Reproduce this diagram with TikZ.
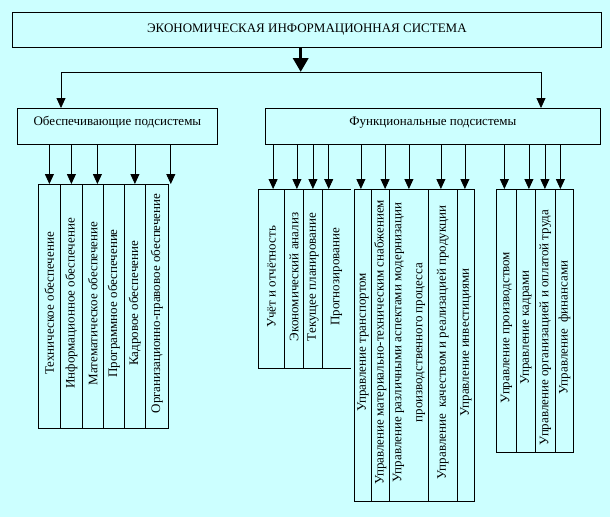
\documentclass[tikz,border=0pt]{standalone}
\usepackage{fontspec}
\setmainfont{Liberation Serif}
\usepackage{graphicx}
\usetikzlibrary{arrows.meta,calc}
\definecolor{bg}{RGB}{204,255,255}
\newcommand{\vtext}[2][0pt]{\rotatebox{90}{\hspace*{#1}#2}}
\newcommand{\vtextd}[2][0pt]{\rotatebox{90}{#2\hspace*{#1}}}
\begin{document}
\begin{tikzpicture}[x=1pt,y=-1pt,font=\fontsize{13}{15}\selectfont,line width=0.8pt]
\tikzset{
  rectbox/.style={draw,inner sep=0pt,anchor=north west},
  cell/.style 2 args={draw,inner sep=0pt,anchor=north west,minimum width=#1,minimum height=#2},
  opencell/.style 2 args={inner sep=0pt,anchor=north west,minimum width=#1,minimum height=#2},
  arr/.style={-{Triangle[width=9pt,length=10pt]}},
  bigarr/.style={line width=3.5pt,-{Triangle[width=15pt,length=14pt]}}
}
\fill[bg] (0,0) rectangle (610,517);
\useasboundingbox (0,0) rectangle (610,517);

% main boxes
\node[rectbox,minimum width=589,minimum height=35] (top) at (12,12) {ЭКОНОМИЧЕСКАЯ ИНФОРМАЦИОННАЯ СИСТЕМА};
\node[rectbox,minimum width=200,minimum height=36,text height=9pt,text depth=11pt] (lbox) at (17,108) {Обеспечивающие подсистемы};
\node[rectbox,minimum width=335,minimum height=36,text height=9pt,text depth=11pt] (rbox) at (265,108) {Функциональные подсистемы};

% top connectors
\coordinate (hj) at (300.7,72);
\coordinate (hl) at (61,72);
\coordinate (hr) at (541,72);
\draw[bigarr] (top.south -| hj) -- (hj);
\draw (hl) -- (hr);
\draw[arr] (hl) -- (hl |- lbox.north);
\draw[arr] (hr) -- (hr |- rbox.north);

% left group
\node[cell={22}{244}] (l1) at (38,184) {\vtext[6pt]{Техническое обеспечение}};
\node[cell={22}{244}] (l2) at (60,184) {\vtext[6pt]{Информационное обеспечение}};
\node[cell={21}{244}] (l3) at (82,184) {\vtext[6pt]{Математическое обеспечение}};
\node[cell={21}{244}] (l4) at (103,184) {\vtext[6pt]{Программное обеспечение}};
\node[cell={21}{244}] (l5) at (124,184) {\vtext[6pt]{Кадровое обеспечение}};
\node[cell={23}{244}] (l6) at (145,184) {\vtext[6pt]{Организационно-правовое обеспечение}};

\path (l1.north) coordinate (a1)
      (l2.north) coordinate (a2)
      ($(l3.north)+(4.5,0)$) coordinate (a3)
      (l5.north) coordinate (a4)
      ($(l6.north east)+(2,0)$) coordinate (a5);
\foreach \t in {a1,a2,a3,a4,a5} \draw[arr] (lbox.south -| \t) -- (\t);

% right group 1
\node[cell={26}{179}] (f1) at (258,189) {\vtext[4pt]{Учёт и отчётность}};
\node[cell={19}{179}] (f2) at (284,189) {\vtext[4pt]{Экономический анализ}};
\node[cell={19}{179}] (f3) at (303,189) {\vtext[4pt]{Текущее планирование}};
\node[opencell={28}{179}] (f4) at (322,189) {\vtext[4pt]{Прогнозирование}};
\draw (f4.north west) -- (f4.north east);
\draw (f4.south west) -- (f4.south east);

% right group 2
\node[cell={17}{312}] (m1) at (354,189) {\vtext[6pt]{Управление транспортом}};
\node[cell={18}{312}] (m2) at (371,189) {\vtext[6pt]{Управление материально-техническим снабжением}};
\node[cell={39}{312}] (m3) at (389,189) {\rotatebox{90}{\hspace*{6pt}\begin{tabular}{@{}c@{}}Управление различными аспектами модернизации\\[6pt] производственного процесса\end{tabular}}};
\node[cell={29}{312}] (m4) at (428,189) {\vtext[6pt]{Управление\ \ качеством и реализацией продукции}};
\node[cell={17}{312}] (m5) at (457,189) {\vtext[6pt]{Управление инвестициями}};

% right group 3
\node[cell={20}{263}] (p1) at (496,189) {\vtextd[13pt]{Управление производством}};
\node[cell={19}{263}] (p2) at (516,189) {\vtextd[13pt]{Управление кадрами}};
\node[cell={20}{263}] (p3) at (535,189) {\vtextd[13pt]{Управление организацией и оплатой труда}};
\node[cell={18}{263}] (p4) at (555,189) {\vtextd[13pt]{Управление\ \ финансами}};

\path ($(f1.north)+(1.7,0)$) coordinate (b1)
      ($(f2.north)+(3,0)$) coordinate (b2)
      (f3.north) coordinate (b3)
      ($(f4.north west)+(6.7,0)$) coordinate (b4)
      ($(m1.north)+(-2,0)$) coordinate (b5)
      ($(m2.north)+(4.7,0)$) coordinate (b6)
      (m3.north) coordinate (b7)
      ($(m4.north)+(-2,0)$) coordinate (b8)
      ($(m5.north)+(-1,0)$) coordinate (b9)
      ($(p1.north)+(-2,0)$) coordinate (b10)
      ($(p2.north)+(3,0)$) coordinate (b11)
      ($(p3.north)+(-0.5,0)$) coordinate (b12)
      ($(p4.north)+(-4,0)$) coordinate (b13);
\foreach \t in {b1,b2,b3,b4,b5,b6,b7,b8,b9,b10,b11,b12,b13} \draw[arr] (rbox.south -| \t) -- (\t);
\end{tikzpicture}
\end{document}
